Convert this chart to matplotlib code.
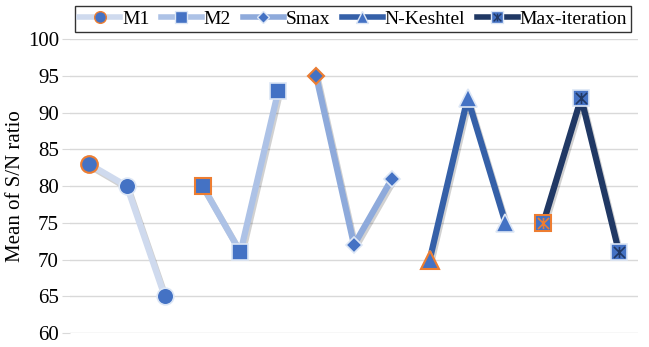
import numpy as np
import matplotlib.pyplot as plt
import matplotlib.patheffects as pe
from matplotlib.path import Path

# values (three levels per factor)
series_names = ['M1', 'M2', 'Smax', 'N-Keshtel', 'Max-iteration']
m1 = [83, 80, 65]
m2 = [80, 71, 93]
smax = [95, 72, 81]
n_keshtel = [70, 92, 75]
max_iter = [75, 92, 71]
y_ticks = [60, 65, 70, 75, 80, 85, 90, 95, 100]

line_colors = ['#cfdaee', '#adc2e6', '#8eaadb', '#3560a8', '#203864']
fill = '#4472c4'
orange = '#ed7d31'

# square with cross + vertical bar
star_path = Path([(-1, -1), (1, 1), (-1, 1), (1, -1), (0, -1), (0, 1)],
                 [Path.MOVETO, Path.LINETO, Path.MOVETO, Path.LINETO,
                  Path.MOVETO, Path.LINETO])

plt.rcParams['font.family'] = ['Liberation Serif']

fig = plt.figure(figsize=(6.49, 3.47), dpi=100)
ax = fig.add_axes([0.108, 0.04, 0.875, 0.847])

shadow = [pe.SimpleLineShadow(offset=(1.2, -1.8), shadow_color='#000000', alpha=0.18), pe.Normal()]

all_series = [m1, m2, smax, n_keshtel, max_iter]
markers = ['o', 's', 'D', '^', 's']
sizes = [12, 12, 8.5, 13, 12]

handles = []
for i, vals in enumerate(all_series):
    x = np.arange(3) + 3 * i
    # line with shadow, markers drawn on top
    ax.plot(x, vals, color=line_colors[i], lw=4.5, path_effects=shadow, zorder=3)
    ax.plot(x, vals, marker=markers[i], ms=sizes[i], mfc=fill, mec='#dce6f5',
            mew=1.2, ls='none', zorder=4)
    # first level has orange edge
    ax.plot(x[0], vals[0], marker=markers[i], ms=sizes[i], mfc=fill,
            mec=orange, mew=1.5, ls='none', zorder=4)
    edge = orange if i == 0 else '#dce6f5'
    h, = ax.plot([], [], color=line_colors[i], lw=4, marker=markers[i],
                 ms=sizes[i] * 0.7, mfc=fill, mec=edge, mew=1.0)
    if i == 4:
        ax.plot(x[1:], vals[1:], marker=star_path, ms=8, mec='#203864',
                mew=1.2, ls='none', zorder=5)
        ax.plot(x[0], vals[0], marker=star_path, ms=8, mec=orange,
                mew=1.2, ls='none', zorder=5)
        s, = ax.plot([], [], marker=star_path, ms=5.5, mec='#203864', mew=1, ls='none')
        h = (h, s)
    handles.append(h)

ax.set_xlim(-0.5, 14.5)
ax.set_ylim(60, 100)
ax.set_yticks(y_ticks)
ax.set_xticks([])
ax.tick_params(axis='y', labelsize=15, length=6, color='#d9d9d9', pad=2)
ax.yaxis.grid(True, color='#d9d9d9', lw=1)
ax.set_axisbelow(True)
for sp in ax.spines.values():
    sp.set_visible(False)
ax.set_ylabel('Mean of S/N ratio', fontsize=15)
ax.yaxis.set_label_coords(-0.08, 0.5)

leg = fig.legend(handles=handles, labels=series_names, loc='upper left',
                 bbox_to_anchor=(0.116, 0.982), ncol=5, fontsize=14,
                 frameon=True, fancybox=False, handlelength=2.1,
                 handletextpad=0.1, columnspacing=0.6, borderpad=0.2,
                 borderaxespad=0.0, edgecolor='black')
leg.get_frame().set_linewidth(1.0)

fig.savefig('out.png', dpi=100)
